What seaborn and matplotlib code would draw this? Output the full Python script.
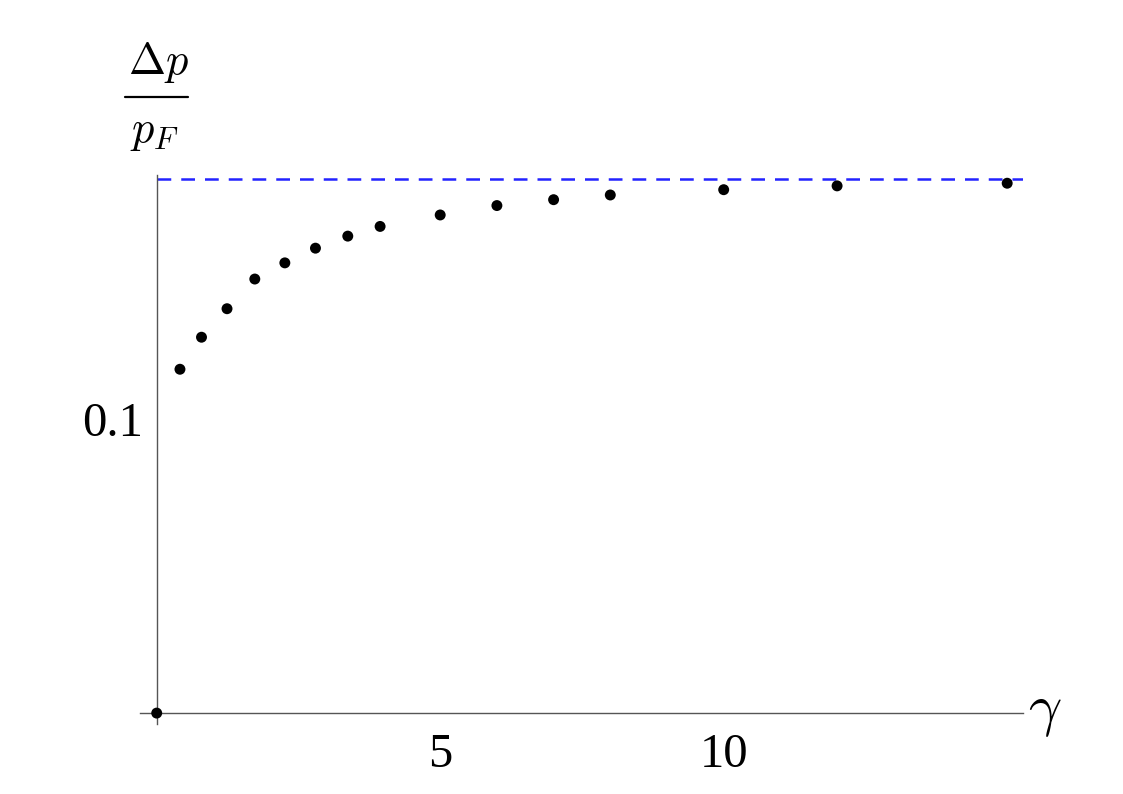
import numpy as np
import pandas as pd
import matplotlib
matplotlib.use("Agg")
import matplotlib.pyplot as plt
import matplotlib.transforms as mtransforms
from matplotlib.lines import Line2D
import seaborn as sns

# valores
gamma = [0.0, 0.41, 0.79, 1.24, 1.73, 2.26, 2.80, 3.37, 3.94, 5.0, 6.0, 7.0, 8.0, 10.0, 12.0, 15.0]
delta_p = [0.0, 0.1170, 0.1279, 0.1376, 0.1477, 0.1532, 0.1582, 0.1623, 0.1656,
           0.1695, 0.1727, 0.1747, 0.1763, 0.1781, 0.1794, 0.1803]
assintota = 0.1817
xticks = [5, 10]
yticks = [0.1]

dados = pd.DataFrame({'gamma': gamma, 'delta_p': delta_p})

sns.set_style('white')
plt.rcParams['font.family'] = ['Liberation Serif', 'DejaVu Serif']
plt.rcParams['mathtext.fontset'] = 'cm'
plt.rcParams['text.color'] = 'black'

fig = plt.figure(figsize=(11.23, 7.94), dpi=100)
ax = fig.add_axes([0.1244, 0.0882, 0.7866, 0.6914])

xmin, xmax = -0.30, 15.28
ymin, ymax = -0.0037, 0.1831

ax.hlines(assintota, 0, xmax, colors='#2323ff', linestyles=(0, (5.5, 4.0)), linewidth=1.8)
sns.scatterplot(data=dados, x='gamma', y='delta_p', ax=ax, color='black',
                s=62, edgecolor='none', zorder=3, clip_on=False)

ax.set_xlim(xmin, xmax)
ax.set_ylim(ymin, ymax)

for lado in ['top', 'right']:
    ax.spines[lado].set_visible(False)
ax.spines['left'].set_position(('data', 0))
ax.spines['bottom'].set_position(('data', 0))
for lado in ['left', 'bottom']:
    ax.spines[lado].set_color('#555555')
    ax.spines[lado].set_linewidth(1.0)

ax.set_xticks(xticks)
ax.set_xticklabels([str(t) for t in xticks])
ax.set_yticks(yticks)
ax.set_yticklabels([str(t) for t in yticks])
ax.tick_params(axis='both', direction='in', length=7, width=0.8, color='#555555',
               labelsize=35, labelcolor='black')
ax.tick_params(axis='x', pad=14)
ax.tick_params(axis='y', pad=10)
ax.set_xlabel('')
ax.set_ylabel('')

# rótulo do eixo x
trans_x = mtransforms.blended_transform_factory(ax.transAxes, ax.transData)
ax.text(1.006, 0, r'$\gamma$', transform=trans_x, fontsize=42, ha='left', va='center',
        color='black')

# rótulo do eixo y: fração montada em partes (numerador, traço, denominador)
trans_y = mtransforms.blended_transform_factory(ax.transData, fig.transFigure)
fig.text(0.03, 0.9064, r'$\Delta p$', transform=trans_y, fontsize=32,
         ha='center', va='baseline', color='black')
fig.text(-0.04, 0.8215, r'$p_F$', transform=trans_y, fontsize=32,
         ha='center', va='baseline', color='black')
fig.add_artist(Line2D([-0.56, 0.56], [0.8782, 0.8782], transform=trans_y,
                      color='black', linewidth=1.6))

fig.savefig('out.png', dpi=100)
